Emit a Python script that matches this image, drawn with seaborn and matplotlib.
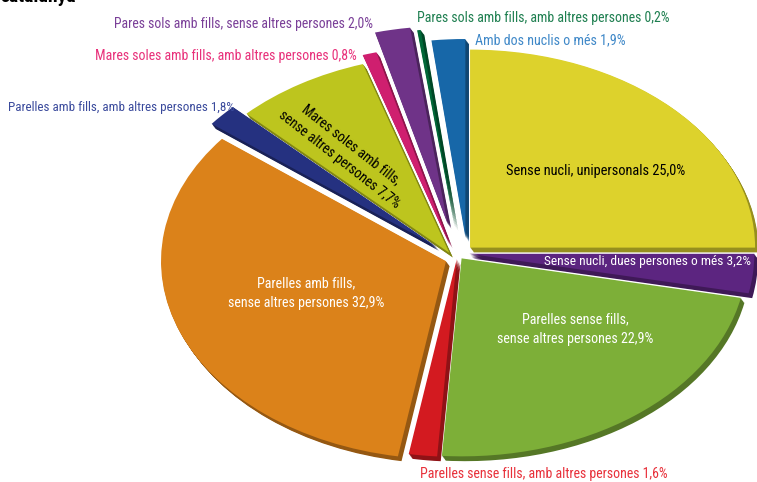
#!/usr/bin/env python3
# -*- coding: utf-8 -*-
import seaborn as sns
import matplotlib.pyplot as plt

sns.set_theme(style="white")
plt.rcParams["font.family"] = ["Roboto Condensed", "Open Sans Condensed", "Lato", "DejaVu Sans"]

#%% data
categories = [
    "Sense nucli, unipersonals",
    "Sense nucli, dues persones o més",
    "Parelles sense fills, sense altres persones",
    "Parelles sense fills, amb altres persones",
    "Parelles amb fills, sense altres persones",
    "Parelles amb fills, amb altres persones",
    "Mares soles amb fills, sense altres persones",
    "Mares soles amb fills, amb altres persones",
    "Pares sols amb fills, sense altres persones",
    "Pares sols amb fills, amb altres persones",
    "Amb dos nuclis o més",
]
values = [25.0, 3.2, 22.9, 1.6, 32.9, 1.8, 7.7, 0.8, 2.0, 0.2, 1.9]
top_colors = ["#DDD22C", "#5C2580", "#7DAF38", "#D31A20", "#DB821A", "#253180",
              "#BDC51E", "#CF1F6F", "#6F3388", "#006838", "#1767A8"]
explode = [0.06, 0.04, 0.015, 0.035, 0.045, 0.09, 0.025, 0.075, 0.17, 0.15, 0.096]
# small extra shifts of the slices, in pixels, the original is not purely radial
nudge = [(0, 0), (0, -3), (1, 0), (0, -4), (0, 2), (-3, 2), (-5, 1), (-3, 2), (-1, 1), (2, 0), (9, 0)]

W, H = 757, 482
cx, cy, rx, ry = 458, 256, 285, 198

#%%
fig = plt.figure(figsize=(W / 100, H / 100), dpi=100, facecolor="white")
ax = fig.add_axes([0, 0, 1, 1])
palette = sns.color_palette(top_colors)
dark = [tuple(c * 0.68 for c in col) for col in palette]


def draw_pie(colors, center):
    wedges, _ = ax.pie(values, colors=colors, explode=explode, startangle=90, counterclock=False,
                       center=center, wedgeprops={"linewidth": 0})
    for w, (dx, dy) in zip(wedges, nudge):
        w.set_center((w.center[0] + dx / rx, w.center[1] - dy / ry))


# extruded side of the pie, then the top face
for k in range(6, 0, -1):
    draw_pie(dark, (k * 0.6 / rx, -k * 0.8 / ry))
draw_pie(palette, (0, 0))
ax.set_aspect("auto")
ax.set_xlim(-cx / rx, (W - cx) / rx)
ax.set_ylim(-(H - cy) / ry, cy / ry)
ax.axis("off")


def label(x, y, txt, color, size=10.1, ha="center", rotation=0, weight="normal"):
    fig.text(x / W, 1 - y / H, txt, color=color, fontsize=size, ha=ha, va="center",
             rotation=rotation, rotation_mode="anchor", weight=weight, linespacing=1.5)


label(0, -3, "catalunya", "black", size=14, ha="left", weight="bold")
label(596, 171, "Sense nucli, unipersonals 25,0%", "black", size=10.4)
label(648, 261, "Sense nucli, dues persones o més 3,2%", "white", size=9.7)
label(575, 329, "Parelles sense fills,\nsense altres persones 22,9%", "white")
label(306, 293, "Parelles amb fills,\nsense altres persones 32,9%", "white")
label(345, 152, "Mares soles amb fills,\nsense altres persones 7,7%", "black", rotation=-38)
label(544, 474, "Parelles sense fills, amb altres persones 1,6%", "#E8303A", size=10)
label(121, 107, "Parelles amb fills, amb altres persones 1,8%", "#3A4A9C", size=9.4)
label(226, 56, "Mares soles amb fills, amb altres persones 0,8%", "#E8307A", size=10)
label(244, 24, "Pares sols amb fills, sense altres persones 2,0%", "#7A3F98", size=9.9)
label(543, 18, "Pares sols amb fills, amb altres persones 0,2%", "#1E7F50", size=10)
label(550, 40, "Amb dos nuclis o més 1,9%", "#3F88C8")

plt.savefig("out.png", dpi=100)
plt.close()
